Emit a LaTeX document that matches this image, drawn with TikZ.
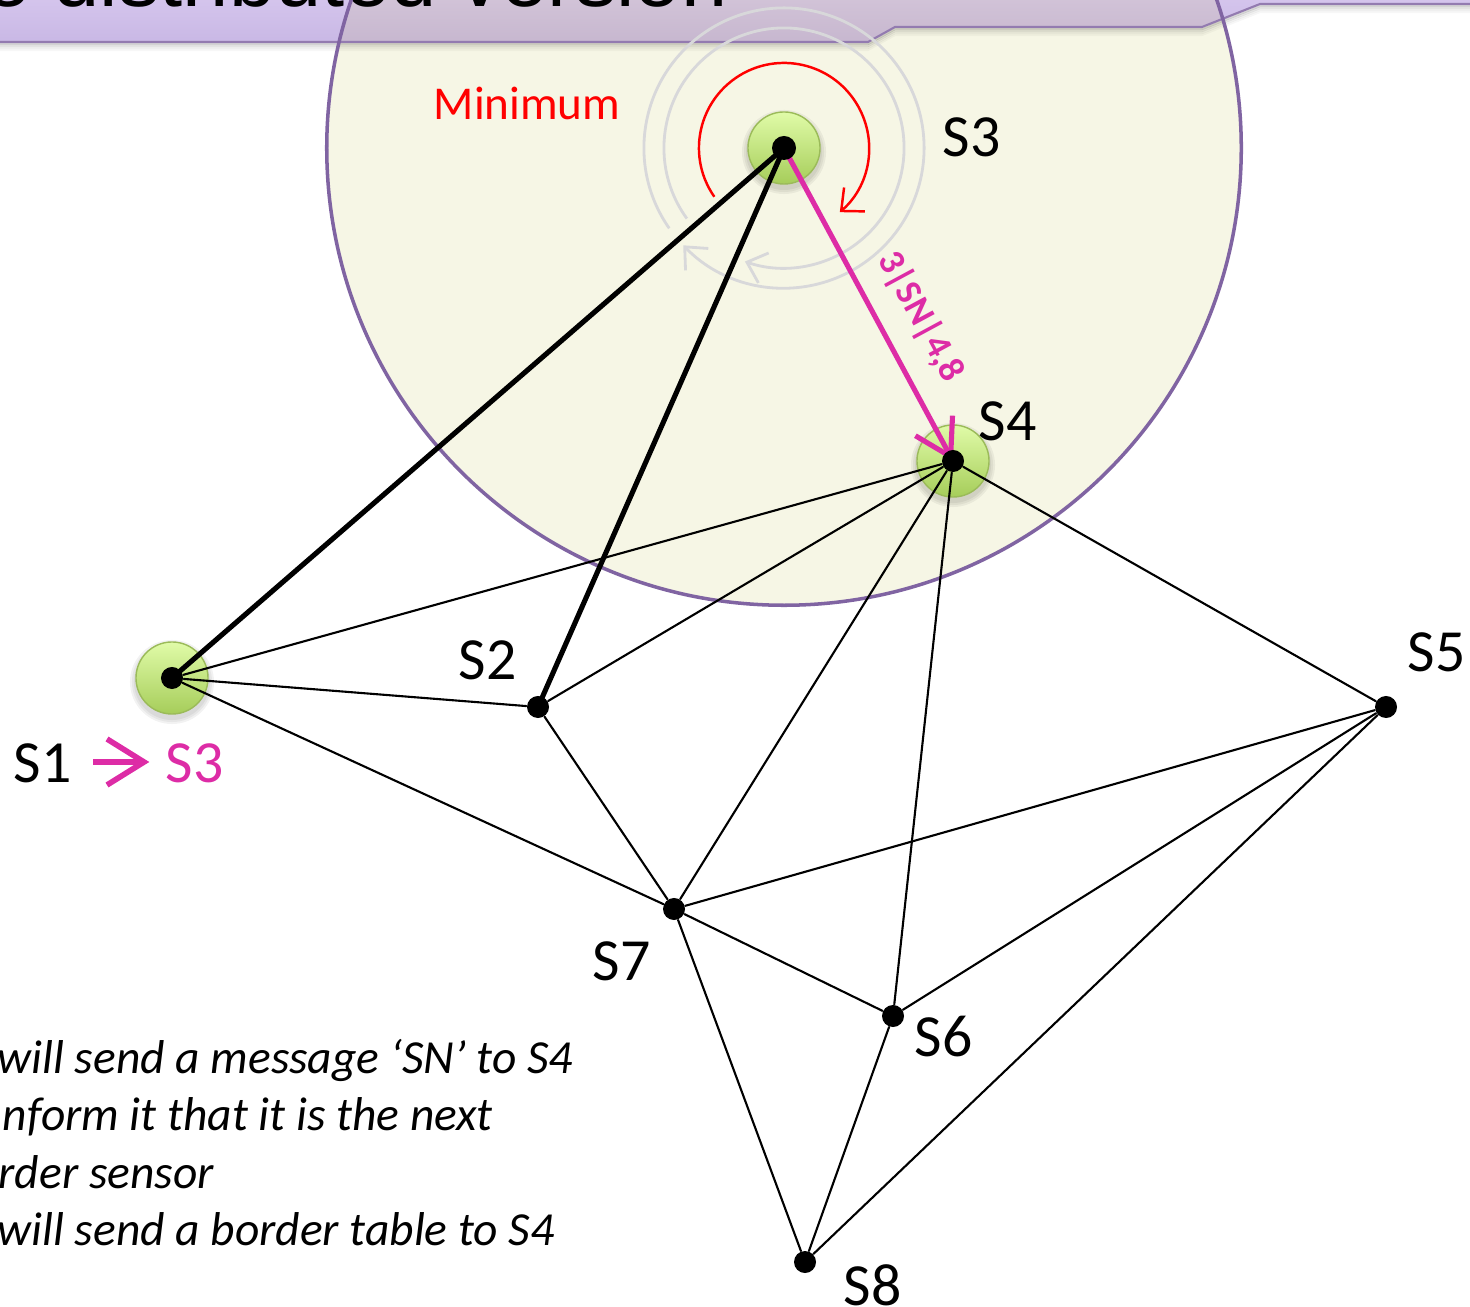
\documentclass[tikz,border=0pt]{standalone}
\usepackage{fontspec}
\setmainfont{Carlito}
\newfontfamily\titlefont{Liberation Sans}
\usetikzlibrary{arrows.meta,calc}

\definecolor{msgpink}{RGB}{221,44,166}
\definecolor{rangefill}{RGB}{246,246,229}
\definecolor{rangeline}{RGB}{128,100,162}
\definecolor{barlight}{RGB}{217,202,240}
\definecolor{bardark}{RGB}{201,184,229}
\definecolor{mauvetop}{RGB}{214,200,219}
\definecolor{mauvebot}{RGB}{199,183,207}
\definecolor{haloline}{RGB}{155,187,89}
\definecolor{halotop}{RGB}{224,251,168}
\definecolor{halobot}{RGB}{166,205,90}
\definecolor{ringgray}{RGB}{216,216,218}

\pgfdeclarelayer{bg}
\pgfdeclarelayer{edges}
\pgfsetlayers{bg,edges,main}

\tikzset{
  sensor/.style={circle, fill=black, inner sep=0pt, minimum size=0.22cm},
  link/.style={line width=0.6pt, line cap=round},
  treelink/.style={line width=1.45pt, line cap=round},
  slabel/.style={font=\fontsize{17}{20}\selectfont, inner sep=0pt, anchor=base west},
  notetext/.style={font=\fontsize{13.5}{16}\selectfont\itshape, inner sep=0pt, anchor=base west},
  ring/.style={ringgray, line width=0.8pt, -{Straight Barb[length=5pt,width=9pt]}},
  halo/.style={top color=halotop, bottom color=halobot, draw=haloline, line width=0.4pt},
}

\begin{document}
\begin{tikzpicture}[x=0.01cm,y=0.01cm]
\useasboundingbox (0,0) rectangle (1470,-1307);
\clip (0,0) rectangle (1470,-1307);

% sensors
\node[sensor, minimum size=0.24cm] (s3) at (784,-148) {};
\node[sensor] (s1) at (172,-678) {};
\node[sensor] (s2) at (538,-707) {};
\node[sensor] (s4) at (953,-461) {};
\node[sensor] (s5) at (1386,-707) {};
\node[sensor] (s6) at (893,-1016) {};
\node[sensor] (s7) at (674,-909) {};
\node[sensor] (s8) at (805,-1262) {};

\begin{pgfonlayer}{bg}
  % radio range of S3
  \fill[rangefill] (s3.center) circle[radius=4.57cm];
  % title bar with its shadow
  \foreach \d/\o in {2/0.16,4/0.10,6/0.06,8/0.03}
    \draw[black, opacity=\o, line width=0.6pt]
      (-10,-42-\d) -- (868,-42-\d) -- (895,-27-\d) -- (1202,-27-\d) -- (1260,-4-\d) -- (1480,-4-\d);
  \shade[top color=barlight, bottom color=bardark]
    (-10,20) -- (-10,-42) -- (868,-42) -- (895,-27) -- (1202,-27) -- (1260,-4) -- (1480,-4) -- (1480,20) -- cycle;
  \begin{scope}
    \clip (s3.center) circle[radius=4.57cm];
    \shade[top color=mauvetop, bottom color=mauvebot]
      (-10,20) -- (-10,-42) -- (868,-42) -- (895,-27) -- (1202,-27) -- (1260,-4) -- (1480,-4) -- (1480,20) -- cycle;
  \end{scope}
  \draw[rangeline!85, line width=0.6pt]
    (-10,-42) -- (868,-42) -- (895,-27) -- (1202,-27) -- (1260,-4) -- (1480,-4);
  \node[anchor=base west, inner sep=0pt, font=\titlefont\fontsize{23.6}{28}\selectfont] (title) at (-16,-7) {e distributed version};
  \draw[rangeline, line width=1pt] (s3.center) circle[radius=4.57cm];

  % search rings around S3
  \draw[ring] ([shift={(215:1.40cm)}]s3.center) arc[start angle=215, end angle=-136, radius=1.40cm];
  \draw[ring] ([shift={(216:1.20cm)}]s3.center) arc[start angle=216, end angle=-109, radius=1.20cm];
  \draw[red, line width=0.7pt, -{Straight Barb[length=5pt,width=9pt]}]
    ([shift={(215:0.85cm)}]s3.center) arc[start angle=215, end angle=-49, radius=0.85cm];

  % highlighted sensors
  \foreach \s in {s1,s3,s4} {
    \foreach \k/\o in {1/0.05,2/0.05,3/0.05}
      \fill[black, opacity=\o] ($(\s.center)+(0,-4)$) circle[radius={0.36cm+\k*0.02cm}];
    \shade[halo] (\s.center) circle[radius=0.36cm];
  }
\end{pgfonlayer}

\begin{pgfonlayer}{edges}
  \draw[link] (s1) -- (s4);
  \draw[link] (s1) -- (s2);
  \draw[link] (s1) -- (s7);
  \draw[link] (s2) -- (s4);
  \draw[link] (s2) -- (s7);
  \draw[link] (s4) -- (s7);
  \draw[link] (s4) -- (s6);
  \draw[link] (s4) -- (s5);
  \draw[link] (s5) -- (s7);
  \draw[link] (s5) -- (s6);
  \draw[link] (s5) -- (s8);
  \draw[link] (s7) -- (s6);
  \draw[link] (s7) -- (s8);
  \draw[link] (s6) -- (s8);
  \draw[treelink] (s1.center) -- (s3.center);
  \draw[treelink] (s2.center) -- (s3.center);
  \draw[msgpink, line width=1.45pt, -{Straight Barb[length=10pt,width=12pt]}]
    (s3.center) -- (s4.center)
    node[sloped, pos=0.6, above=6pt, inner sep=0pt, font=\fontsize{10.5}{13}\selectfont\bfseries] (msg) {3|SN|4,8};
\end{pgfonlayer}

% labels
\node[slabel] (l3) at (942,-157) {S3};
\node[slabel] (l4) at (978,-441) {S4};
\node[slabel] (l2) at (458,-680) {S2};
\node[slabel] (l5) at (1407,-672) {S5};
\node[slabel] (l7) at (592,-980) {S7};
\node[slabel] (l6) at (914,-1056) {S6};
\node[slabel] (l8) at (843,-1305) {S8};
\node[anchor=base west, inner sep=0pt, text=red, font=\fontsize{13.4}{16}\selectfont] (minlbl) at (433,-120) {Minimum};

% current hop
\node[slabel] (from) at (13,-783) {S1};
\node[slabel, text=msgpink] (to) at (165,-783) {S3};
\coordinate (ha) at (93,-762);
\coordinate (hb) at (144,-762);
\draw[msgpink, line width=1.6pt, line join=miter] (ha) -- (hb);
\draw[msgpink, line width=1.6pt, line join=miter] (107,-739) -- (hb) -- (107,-785);

% notes
\node[notetext] (n1) at (-3,-1073) {will send a message ‘SN’ to S4};
\node[notetext] (n2) at (2,-1130) {nform it that it is the next};
\node[notetext] (n3) at (-2,-1188) {rder sensor};
\node[notetext] (n4) at (-3,-1245) {will send a border table to S4};
\end{tikzpicture}
\end{document}
